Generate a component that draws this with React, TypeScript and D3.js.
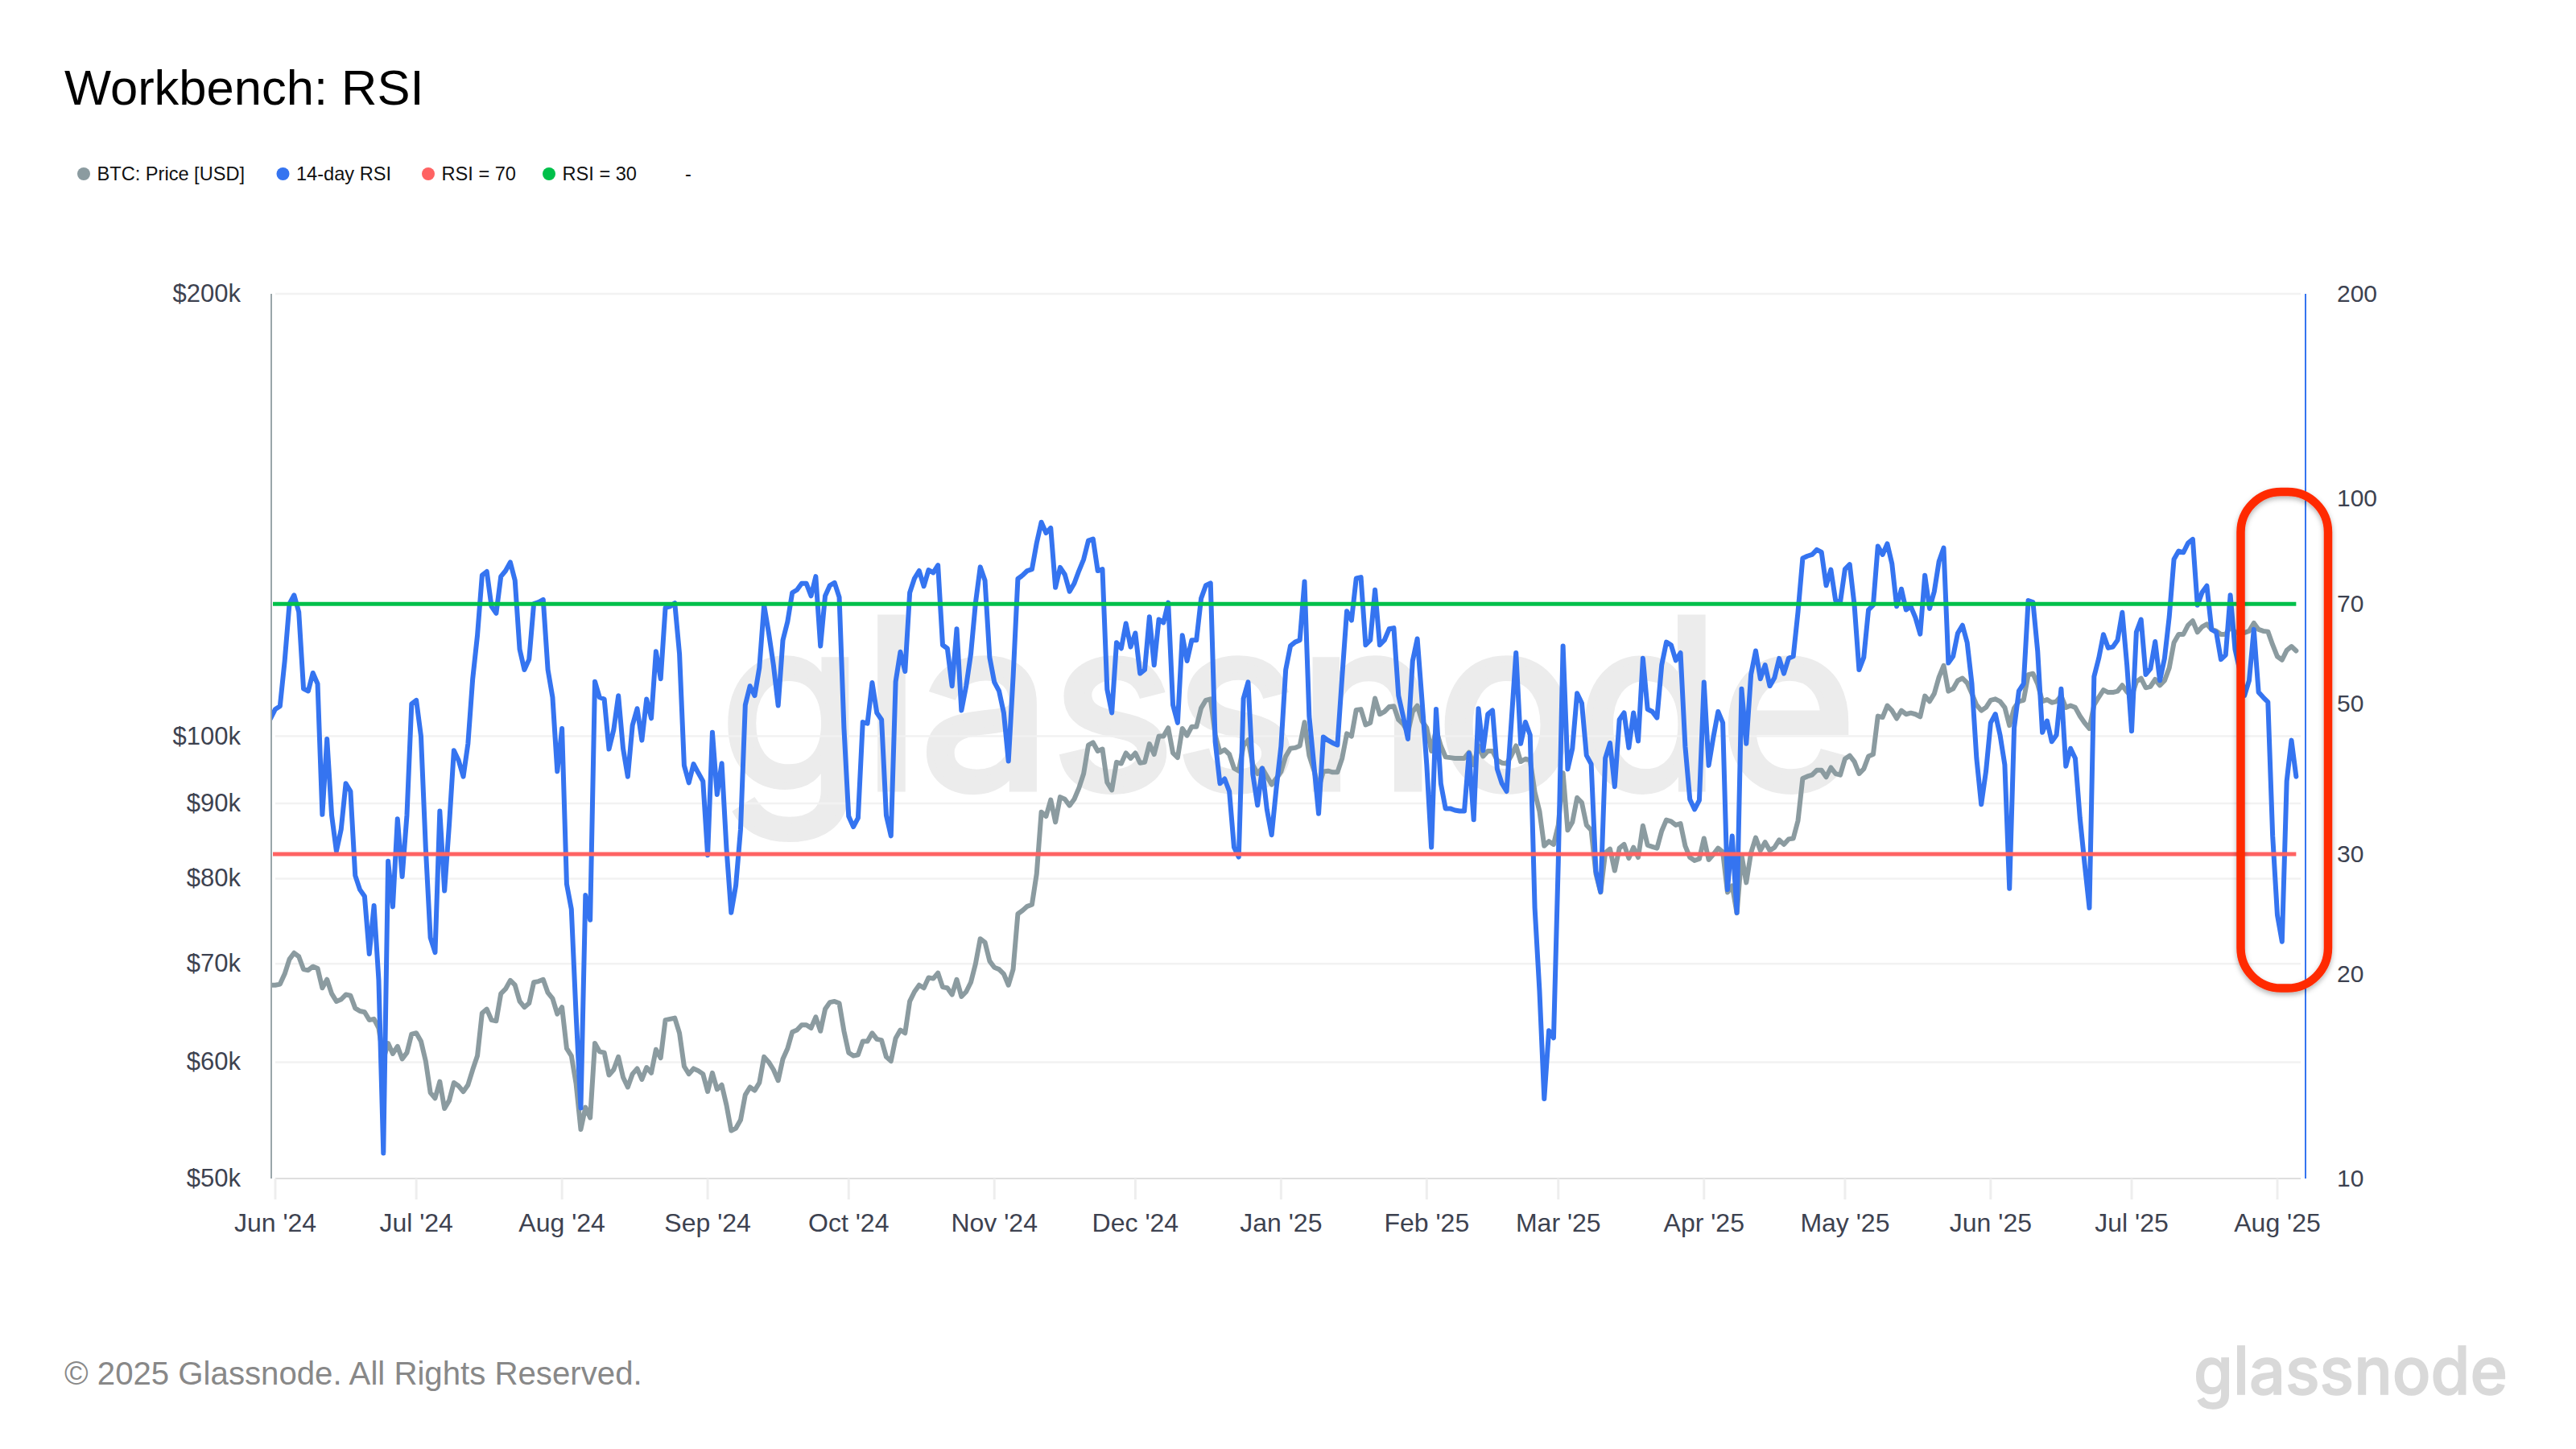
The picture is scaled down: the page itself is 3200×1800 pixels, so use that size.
import { scaleLog, scaleUtc, line, utcDay, curveLinear } from 'd3';

const WIDTH = 3200;
const HEIGHT = 1800;

// Daily readings, first one is 31 May 2024
const firstDay = new Date(Date.UTC(2024, 4, 31));

const priceK = [
  67.7, 67.7, 67.8, 68.9, 70.5, 71.2, 70.8, 69.4, 69.3, 69.7, 69.5, 67.4, 68.3, 66.8, 66.0, 66.2, 66.7, 66.6, 65.3, 65.0, 64.9, 64.1, 64.2, 63.3, 60.3, 61.8, 60.8, 61.5, 60.3, 60.9,
  62.7, 62.8, 62.0, 60.1, 57.2, 56.7, 58.2, 55.8, 56.5, 58.1, 57.8, 57.3, 57.9, 59.3, 60.6, 64.8, 65.2, 64.1, 64.0, 66.8, 67.3, 68.2, 67.7, 66.0, 65.4, 65.8, 68.0, 68.1, 68.3, 66.9, 66.3, 64.7,
  65.4, 61.3, 60.6, 58.0, 54.0, 55.9, 55.0, 61.8, 61.0, 60.9, 58.8, 59.3, 60.5, 58.6, 57.7, 58.9, 59.4, 58.4, 59.5, 59.0, 61.2, 60.4, 64.1, 64.2, 64.3, 62.8, 59.6, 58.9, 59.4, 59.2, 58.9,
  57.3, 59.0, 57.5, 57.9, 56.1, 53.9, 54.1, 54.8, 57.0, 57.7, 57.4, 58.1, 60.5, 60.0, 59.3, 58.3, 60.3, 61.3, 62.9, 63.1, 63.6, 63.6, 63.3, 64.4, 63.0, 65.2, 65.9, 66.0, 65.8, 63.0,
  60.9, 60.6, 60.7, 62.0, 62.0, 62.8, 62.2, 62.1, 60.5, 60.1, 62.3, 63.1, 62.8, 66.0, 67.0, 67.7, 67.4, 68.5, 68.4, 69.0, 67.5, 67.4, 66.7, 68.3, 66.5, 67.0, 68.0, 70.0, 72.8, 72.4, 70.3,
  69.6, 69.4, 68.9, 67.7, 69.4, 75.7, 76.1, 76.6, 76.8, 80.6, 88.8, 88.2, 90.5, 87.4, 90.9, 90.6, 89.7, 90.6, 92.2, 94.3, 98.6, 99.0, 97.7, 98.0, 93.0, 91.9, 96.0, 95.8, 97.4, 96.6,
  97.4, 95.9, 96.0, 98.8, 97.2, 100.0, 100.0, 101.3, 97.4, 96.7, 101.2, 100.1, 101.5, 101.5, 104.5, 105.8, 106.0, 100.2, 97.5, 97.9, 97.2, 95.1, 94.7, 98.5, 99.4, 95.6, 94.3, 95.1, 93.9, 92.7, 93.6,
  94.6, 96.9, 98.1, 98.2, 98.5, 102.2, 97.0, 94.8, 92.2, 94.6, 94.7, 94.5, 94.5, 96.6, 100.4, 100.0, 104.2, 104.3, 101.8, 102.1, 106.1, 103.5, 103.9, 104.7, 104.8, 102.6, 101.9, 100.6, 103.9, 104.9, 102.4,
  101.3, 97.7, 101.0, 98.5, 96.8, 96.7, 96.6, 96.6, 96.6, 97.5, 95.6, 98.5, 96.9, 97.7, 97.7, 96.3, 95.9, 95.8, 97.0, 98.5, 96.1, 96.5, 96.3, 91.6, 88.9, 84.2, 84.8, 84.4,
  87.0, 94.4, 86.3, 87.4, 90.8, 90.1, 87.0, 86.3, 80.6, 78.3, 83.3, 83.8, 81.0, 83.9, 84.4, 82.6, 84.0, 82.7, 86.9, 84.3, 84.1, 83.9, 86.2, 87.7, 87.5, 87.0, 87.2, 84.2, 82.7, 82.3, 82.5,
  85.2, 82.4, 83.1, 83.9, 83.4, 78.3, 79.1, 75.8, 83.0, 79.5, 83.3, 85.3, 83.6, 84.7, 83.6, 84.0, 85.0, 84.4, 85.1, 85.2, 87.6, 93.6, 93.9, 94.1, 94.8, 94.8, 93.8, 95.2, 94.3, 94.1,
  96.5, 97.0, 96.1, 94.3, 95.0, 96.9, 97.2, 103.2, 103.0, 104.9, 104.1, 102.8, 104.1, 103.5, 103.7, 103.5, 103.1, 106.5, 105.6, 106.9, 109.7, 111.7, 107.3, 107.7, 109.1, 109.5, 108.7, 106.9, 105.0, 104.1, 104.6,
  105.8, 106.0, 105.6, 104.6, 101.7, 104.5, 105.6, 105.8, 110.1, 110.3, 108.5, 105.6, 105.9, 105.4, 105.6, 106.5, 104.6, 104.9, 104.6, 103.2, 102.1, 101.2, 105.0, 106.3, 107.5, 107.1, 107.1, 107.3, 108.3, 107.2,
  106.4, 108.9, 109.5, 107.9, 108.1, 109.3, 108.3, 109.1, 111.3, 115.8, 117.3, 117.3, 119.0, 119.8, 117.7, 118.7, 119.2, 118.2, 117.9, 117.3, 117.3, 118.7, 117.7, 117.5, 117.6, 117.9, 119.4, 118.2, 117.9, 117.8, 115.4,
  113.3, 112.7, 114.4, 115.1, 114.3,
];

const rsi14 = [
  47.5, 49.0, 49.5, 57.7, 70.0, 72.1, 68.1, 52.5, 52.1, 55.4, 53.4, 34.3, 44.3, 34.2, 30.3, 32.6, 38.1, 37.1, 27.9, 26.6, 26.0, 21.4, 25.2, 19.6, 10.9, 29.3, 25.1, 33.8, 27.8, 34.2,
  49.9, 50.5, 44.7, 30.6, 22.6, 21.5, 34.7, 26.5, 33.1, 42.6, 41.2, 39.0, 43.6, 54.3, 62.9, 77.1, 78.1, 69.4, 67.8, 76.8, 78.3, 80.6, 75.8, 60.0, 56.0, 58.0, 70.0, 70.4, 71.0, 56.0, 51.0, 39.7,
  45.9, 27.1, 24.9, 17.4, 12.7, 26.1, 24.0, 53.8, 51.0, 50.7, 42.8, 45.7, 51.3, 42.9, 39.0, 46.4, 49.1, 44.1, 50.7, 47.5, 59.6, 54.3, 69.1, 69.4, 70.2, 59.1, 40.5, 38.2, 40.7, 39.5, 38.4,
  29.9, 45.3, 36.7, 40.8, 30.6, 24.6, 27.0, 32.6, 49.7, 53.0, 51.3, 56.4, 69.7, 63.4, 56.9, 49.6, 61.9, 65.9, 72.7, 73.4, 75.0, 75.0, 71.9, 76.8, 60.7, 71.9, 74.5, 75.2, 71.6, 46.0,
  34.1, 32.9, 33.9, 46.9, 46.7, 53.6, 48.4, 47.3, 34.2, 31.9, 53.8, 59.5, 55.7, 72.7, 76.3, 78.3, 74.3, 78.5, 77.8, 79.8, 60.9, 60.2, 53.0, 64.3, 48.8, 53.0, 59.1, 70.2, 79.3, 75.8, 58.4,
  53.7, 52.1, 48.4, 41.1, 54.7, 76.2, 77.1, 78.3, 78.7, 86.0, 92.3, 89.0, 90.5, 74.0, 79.2, 77.3, 73.0, 75.0, 78.3, 81.4, 86.7, 87.2, 78.3, 78.7, 52.4, 48.4, 61.4, 60.2, 65.5, 60.5,
  63.4, 55.3, 56.0, 67.0, 56.9, 66.4, 65.7, 70.3, 49.7, 46.8, 62.9, 57.7, 61.9, 61.9, 71.3, 74.5, 75.1, 43.9, 38.1, 38.7, 37.1, 30.7, 29.7, 50.8, 53.7, 39.3, 35.4, 40.1, 34.9, 32.0, 37.5,
  43.2, 56.0, 60.7, 61.5, 61.9, 75.5, 47.8, 40.6, 34.4, 44.6, 44.1, 43.7, 43.4, 54.7, 68.3, 66.2, 76.3, 76.6, 60.9, 61.9, 73.4, 60.9, 61.9, 64.3, 64.5, 51.3, 47.8, 44.3, 57.7, 62.2, 50.5,
  40.6, 30.7, 49.0, 38.1, 35.0, 35.0, 34.8, 34.7, 34.7, 42.2, 33.7, 49.1, 42.6, 48.2, 48.8, 40.0, 38.1, 37.1, 46.8, 59.3, 43.6, 46.9, 44.9, 25.0, 18.9, 13.1, 16.5, 16.1,
  29.2, 60.7, 40.0, 42.9, 51.7, 50.0, 41.9, 40.7, 28.3, 26.4, 41.5, 43.7, 37.7, 47.3, 48.4, 43.0, 48.4, 44.0, 58.2, 49.0, 48.6, 47.6, 56.9, 61.5, 60.9, 57.8, 59.3, 43.2, 36.1, 34.9, 36.0,
  53.7, 40.5, 44.6, 48.6, 46.8, 26.6, 31.9, 24.6, 52.5, 43.6, 55.1, 59.7, 54.3, 56.9, 53.0, 54.5, 58.2, 55.3, 58.2, 58.6, 68.1, 81.7, 82.3, 82.7, 84.1, 83.4, 74.5, 78.6, 70.8, 70.4,
  78.7, 80.0, 69.7, 56.0, 58.4, 68.6, 69.7, 85.1, 82.7, 85.8, 80.2, 69.4, 73.6, 68.6, 69.4, 66.8, 63.2, 77.1, 68.9, 73.0, 80.8, 84.6, 57.3, 58.6, 63.4, 65.1, 61.4, 53.4, 41.5, 35.5, 39.7,
  46.8, 48.2, 44.9, 40.6, 26.7, 46.0, 52.1, 53.4, 70.8, 70.4, 59.6, 45.3, 47.1, 43.9, 44.9, 52.5, 40.4, 42.9, 41.5, 33.9, 29.0, 25.0, 54.7, 58.2, 63.1, 60.3, 60.5, 61.9, 68.0, 56.9,
  45.5, 63.6, 66.4, 55.1, 56.2, 61.6, 54.0, 58.2, 67.0, 81.4, 83.7, 83.3, 86.0, 87.1, 69.7, 72.8, 74.4, 64.2, 63.6, 58.0, 58.9, 72.1, 60.0, 56.0, 51.3, 54.0, 64.2, 51.9, 51.0, 50.2, 31.9,
  24.4, 22.3, 38.4, 44.1, 39.0,
];

const rsi30Level = 30; // legend calls this one "RSI = 70", as the source does
const rsi70Level = 70;

const priceGrid = [60, 70, 80, 90, 100, 200];
const priceTicks = [50, 60, 70, 80, 90, 100, 200];
const rsiTicks = [10, 20, 30, 50, 70, 100, 200];
const monthTicks = [
  [2024, 5, "Jun '24"], [2024, 6, "Jul '24"], [2024, 7, "Aug '24"], [2024, 8, "Sep '24"], [2024, 9, "Oct '24"],
  [2024, 10, "Nov '24"], [2024, 11, "Dec '24"], [2025, 0, "Jan '25"], [2025, 1, "Feb '25"], [2025, 2, "Mar '25"],
  [2025, 3, "Apr '25"], [2025, 4, "May '25"], [2025, 5, "Jun '25"], [2025, 6, "Jul '25"], [2025, 7, "Aug '25"],
] as [number, number, string][];

const legendNames = ['BTC: Price [USD]', '14-day RSI', 'RSI = 70', 'RSI = 30'];
const legendColors = ['#8b9ba0', '#3574f0', '#ff6363', '#00c04a'];
const legendDotX = [104, 351.5, 532, 682];

const FONT = '"Liberation Sans", Arial, sans-serif';
const TICK_COLOR = '#3d4250';

const left = 342;
const right = 2858;
const top = 365;
const bottom = 1464;

const x = scaleUtc()
  .domain([new Date(Date.UTC(2024, 5, 1)), new Date(Date.UTC(2025, 7, 1))])
  .range([342, 2829]);
const yPrice = scaleLog().domain([50, 200]).range([bottom, top]);
const yRsi = scaleLog().domain([10, 200]).range([bottom, top]);

const dayOf = (i: number) => utcDay.offset(firstDay, i);

const priceLine = line<number>()
  .x((_, i) => x(dayOf(i)))
  .y((d) => yPrice(d))
  .curve(curveLinear);
const rsiLine = line<number>()
  .x((_, i) => x(dayOf(i)))
  .y((d) => yRsi(d))
  .curve(curveLinear);

export default function App() {
  const lastDay = dayOf(rsi14.length - 1);
  return (
    <svg
      width={WIDTH}
      height={HEIGHT}
      viewBox={`0 0 ${WIDTH} ${HEIGHT}`}
      style={{ position: 'absolute', left: 0, top: 0, background: '#fff' }}
      fontFamily={FONT}
    >
      <defs>
        <clipPath id="plot">
          <rect x={338} y={top} width={right - 338} height={bottom - top} />
        </clipPath>
        <filter id="soft" x="-10%" y="-5%" width="120%" height="110%">
          <feDropShadow dx="0" dy="3" stdDeviation="3" floodColor="#000" floodOpacity="0.3" />
        </filter>
      </defs>

      <text x={80} y={130} fontSize={61.5} fill="#000">Workbench: RSI</text>

      {legendNames.map((name, i) => (
        <g key={name}>
          <circle cx={legendDotX[i]} cy={216} r={8} fill={legendColors[i]} />
          <text x={legendDotX[i] + 16.5} y={224} fontSize={23.6} fill="#111">{name}</text>
        </g>
      ))}
      <text x={851} y={224} fontSize={23.6} fill="#111">-</text>

      {/* watermark sits under the grid */}
      <text x={894} y={979} fontSize={290} fontFamily="Inter, sans-serif" fontWeight={400} fill="#ececec" stroke="#ececec" strokeWidth={9} textLength={1412} lengthAdjust="spacingAndGlyphs">glassnode</text>

      {priceGrid.map((v) => (
        <line key={v} x1={left} x2={right} y1={yPrice(v)} y2={yPrice(v)} stroke="#f2f2f2" strokeWidth={2.5} />
      ))}
      <line x1={left} x2={right} y1={bottom} y2={bottom} stroke="#dedede" strokeWidth={2} />
      {monthTicks.map(([yr, mo, label]) => {
        const tx = x(new Date(Date.UTC(yr, mo, 1)));
        return (
          <g key={label}>
            <line x1={tx} x2={tx} y1={bottom} y2={1490} stroke="#eeeeee" strokeWidth={3} />
            <text x={tx} y={1530} fontSize={32} fill={TICK_COLOR} textAnchor="middle">{label}</text>
          </g>
        );
      })}

      <line x1={337} x2={337} y1={top} y2={bottom} stroke="#9aa6aa" strokeWidth={2} />
      <line x1={2864} x2={2864} y1={top} y2={bottom} stroke="#3574f0" strokeWidth={2} />

      {priceTicks.map((v) => (
        <text key={v} x={299} y={yPrice(v) + 10} fontSize={31} fill={TICK_COLOR} textAnchor="end">{`$${v}k`}</text>
      ))}
      {rsiTicks.map((v) => (
        <text key={v} x={2903} y={yRsi(v) + 10} fontSize={30} fill={TICK_COLOR}>{v}</text>
      ))}

      <g clipPath="url(#plot)" fill="none" strokeLinejoin="round" strokeLinecap="round">
        <path d={priceLine(priceK) ?? ''} stroke="#8b9ba0" strokeWidth={6} />
        <path d={rsiLine(rsi14) ?? ''} stroke="#3574f0" strokeWidth={6} />
      </g>

      <line x1={339} x2={x(lastDay)} y1={yRsi(rsi30Level)} y2={yRsi(rsi30Level)} stroke="#ff6363" strokeWidth={5} />
      <line x1={339} x2={x(lastDay)} y1={yRsi(rsi70Level)} y2={yRsi(rsi70Level)} stroke="#00c04a" strokeWidth={5} />

      {/* annotation box from the source image */}
      <rect x={2783.5} y={611} width={108.5} height={616.5} rx={50} ry={50} fill="none" stroke="#ff2a00" strokeWidth={10.5} filter="url(#soft)" />

      <text x={80} y={1720} fontSize={40.2} fill="#888888">© 2025 Glassnode. All Rights Reserved.</text>
      <text x={2725} y={1732} fontSize={82} fontFamily="Inter, sans-serif" fontWeight={500} fill="#d9d9d9" stroke="#d9d9d9" strokeWidth={1.5} textLength={390} lengthAdjust="spacingAndGlyphs">glassnode</text>
    </svg>
  );
}
